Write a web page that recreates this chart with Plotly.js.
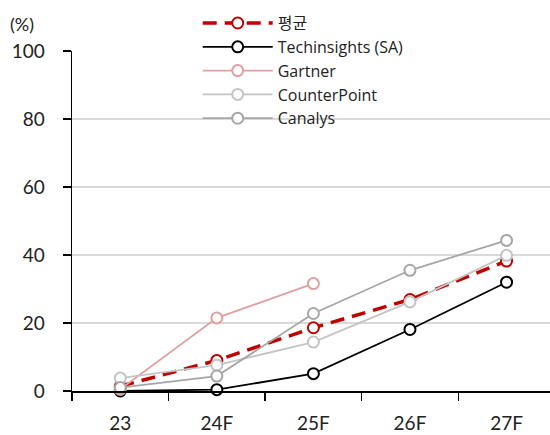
<!DOCTYPE html>
<html>
<head>
<meta charset="utf-8">
<script src="https://cdn.plot.ly/plotly-3.0.1.min.js"></script>
<style>html,body{margin:0;padding:0;background:#fff;}#chart{width:550px;height:435px;}</style>
</head>
<body>
<div id="chart"></div>
<script>
var categories = ['23', '24F', '25F', '26F', '27F'];
var seriesNames = ['평균', 'Techinsights (SA)', 'Gartner', 'CounterPoint', 'Canalys'];
var avgValues = [1.4, 9.0, 18.6, 26.9, 38.2];
var techinsightsValues = [0, 0.4, 5.1, 18.1, 32.0];
var gartnerValues = [0.5, 21.5, 31.6, null, null];
var counterpointValues = [3.8, 7.6, 14.4, 26.2, 39.9];
var canalysValues = [1.0, 4.4, 22.8, 35.5, 44.3];
var yTickVals = [0, 20, 40, 60, 80, 100];

var FONT = "Lato, 'Noto Sans CJK KR', sans-serif";
var LFONT = "'Open Sans', 'Noto Sans CJK KR', sans-serif";

function mk(name, vals, color, width, dash) {
  return {
    type: 'scatter', mode: 'lines+markers', name: name,
    x: categories, y: vals,
    line: {color: color, width: width, dash: dash || 'solid'},
    marker: {symbol: 'circle', size: 11, color: '#ffffff', line: {color: color, width: 2}},
    cliponaxis: false
  };
}

var data = [
  mk(seriesNames[0], avgValues, '#c00000', 3.5, '14px,8px'),
  mk(seriesNames[1], techinsightsValues, '#000000', 1.8),
  mk(seriesNames[2], gartnerValues, '#e0a0a0', 1.8),
  mk(seriesNames[3], counterpointValues, '#c4c4c4', 1.8),
  mk(seriesNames[4], canalysValues, '#a6a6a6', 1.8)
];

var layout = {
  width: 550, height: 435,
  margin: {l: 72, r: 0, t: 51, b: 44},
  paper_bgcolor: '#ffffff', plot_bgcolor: '#ffffff',
  font: {family: FONT, size: 18, color: '#222222'},
  showlegend: true,
  legend: {
    x: 0.263, y: 1.132, xanchor: 'left', yanchor: 'top',
    bgcolor: 'rgba(0,0,0,0)', borderwidth: 0,
    font: {family: LFONT, size: 16, color: '#222222'},
    itemwidth: 70, tracegroupgap: 0
  },
  xaxis: {
    type: 'category', range: [-0.5, 4.45],
    showline: true, linecolor: '#000000', linewidth: 1.5,
    ticks: 'outside', ticklen: 8, tickcolor: '#000000', tickwidth: 1.5,
    tickson: 'boundaries', showgrid: false, zeroline: false,
    ticklabelstandoff: 15,
    tickfont: {family: FONT, size: 19, color: '#222222'}
  },
  yaxis: {
    range: [0, 100], tickvals: yTickVals,
    showline: true, linecolor: '#000000', linewidth: 1.5,
    ticks: 'outside', ticklen: 8, tickcolor: '#000000', tickwidth: 1.5,
    showgrid: true, gridcolor: '#d9d9d9', gridwidth: 1.5, zeroline: false,
    ticklabelstandoff: 14,
    tickfont: {family: FONT, size: 19, color: '#222222'}
  },
  annotations: [{
    text: '(%)', xref: 'paper', yref: 'paper', x: -0.134, y: 1.08,
    xanchor: 'left', yanchor: 'middle', showarrow: false,
    font: {family: FONT, size: 18, color: '#222222'}
  }]
};

Plotly.newPlot('chart', data, layout, {staticPlot: true, displayModeBar: false});
</script>
</body>
</html>
